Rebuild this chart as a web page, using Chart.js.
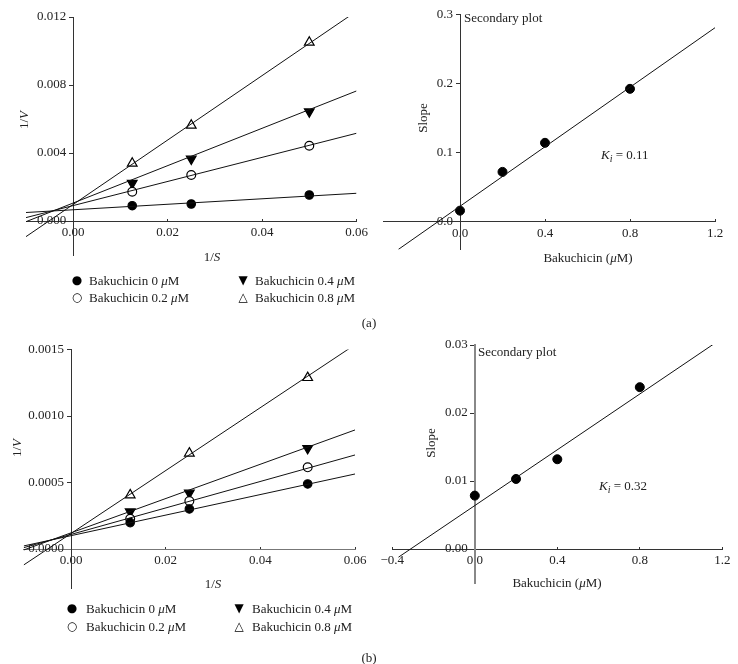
<!DOCTYPE html>
<html>
<head>
<meta charset="UTF-8">
<title>Bakuchicin kinetics</title>
<script src="https://cdn.jsdelivr.net/npm/chart.js"></script>
<style>
  body { margin: 0; background: #fff; }
  #wrap { position: relative; width: 738px; height: 664px; font-family: "Liberation Serif", serif; font-size: 13px; color: #222; }
  #wrap canvas { position: absolute; left: 0; top: 0; }
  .c { position: absolute; white-space: nowrap; line-height: 1; transform: translate(-50%, -50%); }
  .l { position: absolute; white-space: nowrap; line-height: 1; transform: translateY(-50%); }
  .rot { transform: translate(-50%, -50%) rotate(-90deg); }
  .mk { position: absolute; line-height: 1; transform: translate(-50%, -50%); font-family: "DejaVu Sans", sans-serif; font-size: 12px; color: #000; }
</style>
</head>
<body>
<div id="wrap">
  <canvas id="a1" width="738" height="664"></canvas>
  <canvas id="a2" width="738" height="664"></canvas>
  <canvas id="b1" width="738" height="664"></canvas>
  <canvas id="b2" width="738" height="664"></canvas>

  <!-- (a) -->
  <div class="c rot" style="left:23px;top:120px">1/<i>V</i></div>
  <div class="c" style="left:212px;top:256px">1/<i>S</i></div>
  <div class="c rot" style="left:422px;top:118px">Slope</div>
  <div class="c" style="left:588px;top:257px">Bakuchicin (<i>μ</i>M)</div>
  <div class="l" style="left:464px;top:17px">Secondary plot</div>
  <div class="l" style="left:601px;top:156px"><i>K<sub style="font-size:10px">i</sub></i> = 0.11</div>
  <div class="mk" style="left:77px;top:280px">●</div>
  <div class="l" style="left:89px;top:280px">Bakuchicin 0 <i>μ</i>M</div>
  <div class="mk" style="left:77px;top:297px">○</div>
  <div class="l" style="left:89px;top:297px">Bakuchicin 0.2 <i>μ</i>M</div>
  <div class="mk" style="left:243px;top:280px">▼</div>
  <div class="l" style="left:255px;top:280px">Bakuchicin 0.4 <i>μ</i>M</div>
  <div class="mk" style="left:243px;top:297px">△</div>
  <div class="l" style="left:255px;top:297px">Bakuchicin 0.8 <i>μ</i>M</div>
  <div class="c" style="left:369px;top:322px">(a)</div>

  <!-- (b) -->
  <div class="c rot" style="left:16px;top:448px">1/<i>V</i></div>
  <div class="c" style="left:213px;top:583px">1/<i>S</i></div>
  <div class="c rot" style="left:430px;top:443px">Slope</div>
  <div class="c" style="left:557px;top:582px">Bakuchicin (<i>μ</i>M)</div>
  <div class="l" style="left:478px;top:351px">Secondary plot</div>
  <div class="l" style="left:599px;top:487px"><i>K<sub style="font-size:10px">i</sub></i> = 0.32</div>
  <div class="mk" style="left:72px;top:608px">●</div>
  <div class="l" style="left:86px;top:608px">Bakuchicin 0 <i>μ</i>M</div>
  <div class="mk" style="left:72px;top:626px">○</div>
  <div class="l" style="left:86px;top:626px">Bakuchicin 0.2 <i>μ</i>M</div>
  <div class="mk" style="left:239px;top:608px">▼</div>
  <div class="l" style="left:252px;top:608px">Bakuchicin 0.4 <i>μ</i>M</div>
  <div class="mk" style="left:239px;top:626px">△</div>
  <div class="l" style="left:252px;top:626px">Bakuchicin 0.8 <i>μ</i>M</div>
  <div class="c" style="left:369px;top:657px">(b)</div>
</div>

<script>
  // ---- data ----
  const seriesNames = ['Bakuchicin 0 μM', 'Bakuchicin 0.2 μM', 'Bakuchicin 0.4 μM', 'Bakuchicin 0.8 μM'];
  const invS = [0.0125, 0.025, 0.05];
  const fitX = [-0.01, 0.06];

  // (a) Lineweaver-Burk
  const invVa0 = [0.0009, 0.0010, 0.00153];
  const invVa02 = [0.00172, 0.00271, 0.00443];
  const invVa04 = [0.00222, 0.00365, 0.00643];
  const invVa08 = [0.00339, 0.00563, 0.01051];
  const fitYa0 = [0.0005, 0.00163];
  const fitYa02 = [0.0002, 0.00516];
  const fitYa04 = [-0.00004, 0.00765];
  const fitYa08 = [-0.00092, 0.01234];
  const xTicksA = [0, 0.02, 0.04, 0.06];
  const xLabelsA = ['0.00', '0.02', '0.04', '0.06'];
  const yTicksA = [0, 0.004, 0.008, 0.012];
  const yLabelsA = ['0.000', '0.004', '0.008', '0.012'];

  // (a) secondary plot
  const conc = [0, 0.2, 0.4, 0.8];
  const slopeA = [0.016, 0.072, 0.114, 0.192];
  const slopeFitXa = [-0.29, 1.2];
  const slopeFitYa = [-0.04, 0.2803];
  const xTicksA2 = [0, 0.4, 0.8, 1.2];
  const xLabelsA2 = ['0.0', '0.4', '0.8', '1.2'];
  const yTicksA2 = [0, 0.1, 0.2, 0.3];
  const yLabelsA2 = ['0.0', '0.1', '0.2', '0.3'];

  // (b) Lineweaver-Burk
  const invVb0 = [0.000198, 0.000301, 0.000489];
  const invVb02 = [0.000228, 0.000361, 0.000614];
  const invVb04 = [0.00028, 0.000421, 0.000757];
  const invVb08 = [0.000406, 0.00072, 0.001288];
  const fitYb0 = [0.000023, 0.000564];
  const fitYb02 = [0.00001, 0.000707];
  const fitYb04 = [-0.0000075, 0.000895];
  const fitYb08 = [-0.00012, 0.001536];
  const xTicksB = [0, 0.02, 0.04, 0.06];
  const xLabelsB = ['0.00', '0.02', '0.04', '0.06'];
  const yTicksB = [0, 0.0005, 0.001, 0.0015];
  const yLabelsB = ['0.0000', '0.0005', '0.0010', '0.0015'];

  // (b) secondary plot
  const slopeB = [0.00785, 0.0103, 0.0132, 0.0238];
  const slopeFitXb = [-0.37, 1.2];
  const slopeFitYb = [-0.0012, 0.031];
  const xTicksB2 = [-0.4, 0, 0.4, 0.8, 1.2];
  const xLabelsB2 = ['\u22120.4', '0.0', '0.4', '0.8', '1.2'];
  const yTicksB2 = [0, 0.01, 0.02, 0.03];
  const yLabelsB2 = ['0.00', '0.01', '0.02', '0.03'];

  Chart.defaults.font.family = '"Liberation Serif", serif';
  Chart.defaults.font.size = 13;
  Chart.defaults.color = '#222';

  const W = 738, H = 664;
  const markers = [
    { pointStyle: 'circle', fill: '#000', rot: 0, r: 4.2 },
    { pointStyle: 'circle', fill: '#fff', rot: 0, r: 4.4 },
    { pointStyle: 'triangle', fill: '#000', rot: 180, r: 5.6 },
    { pointStyle: 'triangle', fill: '#fff', rot: 0, r: 5.6 }
  ];

  const measure = document.createElement('canvas').getContext('2d');
  measure.font = '13px "Liberation Serif", serif';

  function pts(xs, ys) {
    return xs.map((x, i) => ({ x: x, y: ys[i] }));
  }

  // axes take no room: the plot area is placed by layout padding
  function zeroFit(scale) {
    if (scale.isHorizontal()) scale.height = 0; else scale.width = 0;
    scale.paddingLeft = scale.paddingRight = scale.paddingTop = scale.paddingBottom = 0;
  }

  function axes(o) {
    const [L, T, R, B] = o.area;
    const x0 = L + (0 - o.xMin) / (o.xMax - o.xMin) * (R - L);
    const labelW = Math.max(...o.yLabels.map(s => measure.measureText(s).width));
    return {
      x: {
        type: 'linear', min: o.xMin, max: o.xMax,
        position: { y: 0 },
        afterFit: zeroFit,
        afterBuildTicks: s => { s.ticks = o.xTicks.map(v => ({ value: v })); },
        border: { color: o.xBorder || '#333', width: 1 },
        grid: { drawOnChartArea: false, tickLength: -3, color: '#333' },
        ticks: { autoSkip: false, maxRotation: 0, padding: 7, callback: (v, i) => o.xLabels[i] }
      },
      // axis line + tick marks, crossing at x = 0
      y: {
        type: 'linear', min: o.yMin, max: o.yMax,
        position: { x: 0 },
        afterFit: zeroFit,
        afterBuildTicks: s => { s.ticks = o.yTicks.map(v => ({ value: v })); },
        border: { color: o.yBorder || '#333', width: o.yBorderWidth || 1 },
        grid: { drawOnChartArea: false, tickLength: 4, color: '#333' },
        ticks: { display: false }
      },
      // tick labels for the y axis, mirrored so they can sit just left of x = 0
      yl: {
        type: 'linear', min: o.yMin, max: o.yMax,
        position: 'left',
        afterFit: zeroFit,
        afterBuildTicks: s => { s.ticks = o.yTicks.map(v => ({ value: v })); },
        border: { display: false },
        grid: { display: false, drawTicks: false },
        ticks: { autoSkip: false, mirror: true, crossAlign: 'near', padding: x0 - 7 - labelW - L,
                 callback: (v, i) => o.yLabels[i] }
      }
    };
  }

  function baseOptions(o) {
    return {
      responsive: false,
      animation: false,
      layout: { padding: { left: o.area[0], top: o.area[1], right: W - o.area[2], bottom: H - o.area[3] } },
      plugins: { legend: { display: false }, tooltip: { enabled: false } },
      scales: axes(o)
    };
  }

  function lbChart(id, o, ys, fits) {
    const datasets = [];
    fits.forEach(f => datasets.push({
      type: 'line', data: pts(fitX, f), borderColor: '#111', borderWidth: 1,
      pointRadius: 0, fill: false, yAxisID: 'y'
    }));
    ys.forEach((y, i) => datasets.push({
      type: 'scatter', label: seriesNames[i], data: pts(invS, y), yAxisID: 'y',
      pointStyle: markers[i].pointStyle, rotation: markers[i].rot,
      pointRadius: markers[i].r, backgroundColor: markers[i].fill,
      borderColor: '#000', borderWidth: 1.2
    }));
    new Chart(document.getElementById(id), { type: 'scatter', data: { datasets }, options: baseOptions(o) });
  }

  function secChart(id, o, ys, fx, fy) {
    const datasets = [
      { type: 'line', data: pts(fx, fy), borderColor: '#111', borderWidth: 1, pointRadius: 0, fill: false, yAxisID: 'y' },
      { type: 'scatter', label: 'Slope', data: pts(conc, ys), pointRadius: 4.5, yAxisID: 'y',
        backgroundColor: '#000', borderColor: '#000', borderWidth: 1 }
    ];
    new Chart(document.getElementById(id), { type: 'scatter', data: { datasets }, options: baseOptions(o) });
  }

  lbChart('a1', {
    area: [26, 17, 356.5, 255], xMin: -0.01, xMax: 0.06, yMin: -0.002, yMax: 0.012,
    xTicks: xTicksA, xLabels: xLabelsA, yTicks: yTicksA, yLabels: yLabelsA
  }, [invVa0, invVa02, invVa04, invVa08], [fitYa0, fitYa02, fitYa04, fitYa08]);

  secChart('a2', {
    area: [383.5, 14.1, 715, 249.4], xMin: -0.36, xMax: 1.2, yMin: -0.04, yMax: 0.3,
    xTicks: xTicksA2, xLabels: xLabelsA2, yTicks: yTicksA2, yLabels: yLabelsA2
  }, slopeA, slopeFitXa, slopeFitYa);

  lbChart('b1', {
    area: [23.7, 349.5, 355, 588.9], xMin: -0.01, xMax: 0.06, yMin: -0.0003, yMax: 0.0015,
    xTicks: xTicksB, xLabels: xLabelsB, yTicks: yTicksB, yLabels: yLabelsB, xBorder: '#777'
  }, [invVb0, invVb02, invVb04, invVb08], [fitYb0, fitYb02, fitYb04, fitYb08]);

  secChart('b2', {
    area: [392.3, 345, 722.3, 583], xMin: -0.4, xMax: 1.2, yMin: -0.005, yMax: 0.03,
    xTicks: xTicksB2, xLabels: xLabelsB2, yTicks: yTicksB2, yLabels: yLabelsB2,
    yBorder: '#888', yBorderWidth: 2
  }, slopeB, slopeFitXb, slopeFitYb);
</script>
</body>
</html>
